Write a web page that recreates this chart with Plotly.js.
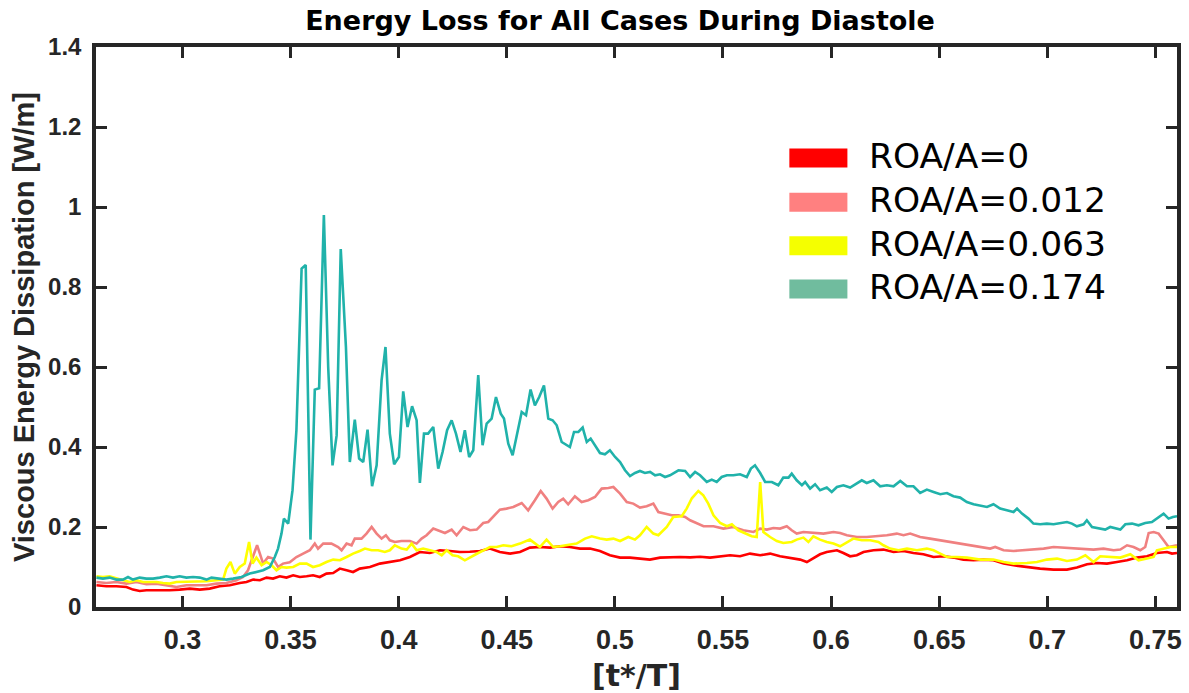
<!DOCTYPE html>
<html>
<head>
<meta charset="utf-8">
<script src="https://cdn.plot.ly/plotly-3.0.1.min.js"></script>
<style>html,body{margin:0;padding:0;background:#fff;}#chart{width:1189px;height:693px;}</style>
</head>
<body>
<div id="chart"></div>
<script>
// ROA/A = 0 (red)
const xRed = [0.2602,0.2648,0.2694,0.2741,0.2771,0.2802,0.2833,0.2864,0.2895,0.2941,0.2987,0.3034,0.3080,0.3126,0.3172,0.3219,0.3265,0.3296,0.3327,0.3358,0.3389,0.3419,0.3450,0.3481,0.3512,0.3543,0.3574,0.3604,0.3635,0.3666,0.3697,0.3728,0.3759,0.3789,0.3820,0.3867,0.3913,0.3959,0.4006,0.4052,0.4098,0.4144,0.4191,0.4237,0.4283,0.4329,0.4376,0.4422,0.4468,0.4515,0.4561,0.4607,0.4653,0.4700,0.4746,0.4792,0.4839,0.4885,0.4931,0.4977,0.5024,0.5070,0.5116,0.5162,0.5209,0.5255,0.5301,0.5348,0.5394,0.5440,0.5486,0.5533,0.5579,0.5625,0.5672,0.5718,0.5764,0.5810,0.5857,0.5888,0.5918,0.5949,0.5980,0.6027,0.6057,0.6088,0.6119,0.6150,0.6196,0.6242,0.6289,0.6335,0.6381,0.6427,0.6474,0.6520,0.6566,0.6612,0.6659,0.6705,0.6751,0.6798,0.6844,0.6906,0.6967,0.7029,0.7091,0.7137,0.7184,0.7230,0.7276,0.7322,0.7369,0.7415,0.7461,0.7507,0.7554,0.7577,0.7600];
const yRed = [0.0543,0.0518,0.0518,0.0500,0.0435,0.0400,0.0418,0.0418,0.0400,0.0418,0.0435,0.0460,0.0435,0.0460,0.0518,0.0543,0.0600,0.0625,0.0685,0.0668,0.0735,0.0710,0.0768,0.0735,0.0793,0.0750,0.0768,0.0793,0.0750,0.0835,0.0850,0.0960,0.0918,0.0875,0.0960,0.1000,0.1085,0.1125,0.1168,0.1250,0.1375,0.1350,0.1418,0.1400,0.1375,0.1380,0.1400,0.1460,0.1375,0.1335,0.1375,0.1485,0.1500,0.1485,0.1518,0.1500,0.1460,0.1460,0.1400,0.1293,0.1235,0.1235,0.1210,0.1185,0.1235,0.1250,0.1250,0.1240,0.1255,0.1235,0.1268,0.1293,0.1268,0.1335,0.1293,0.1335,0.1268,0.1235,0.1185,0.1125,0.1210,0.1318,0.1375,0.1418,0.1350,0.1268,0.1293,0.1375,0.1418,0.1435,0.1375,0.1400,0.1350,0.1318,0.1250,0.1268,0.1235,0.1185,0.1168,0.1185,0.1168,0.1085,0.1043,0.1000,0.0960,0.0935,0.0935,0.0985,0.1068,0.1100,0.1085,0.1125,0.1168,0.1235,0.1268,0.1350,0.1375,0.1335,0.1350];

// ROA/A = 0.012 (pink)
const xPink = [0.2602,0.2648,0.2694,0.2741,0.2787,0.2833,0.2880,0.2926,0.2972,0.3018,0.3065,0.3111,0.3157,0.3203,0.3250,0.3280,0.3303,0.3327,0.3345,0.3358,0.3373,0.3396,0.3419,0.3442,0.3465,0.3496,0.3527,0.3558,0.3589,0.3612,0.3627,0.3651,0.3689,0.3720,0.3736,0.3759,0.3782,0.3797,0.3828,0.3851,0.3875,0.3898,0.3921,0.3941,0.3959,0.3982,0.4013,0.4052,0.4083,0.4106,0.4129,0.4160,0.4183,0.4214,0.4245,0.4268,0.4299,0.4330,0.4361,0.4391,0.4414,0.4445,0.4468,0.4499,0.4530,0.4569,0.4599,0.4630,0.4657,0.4684,0.4712,0.4738,0.4761,0.4784,0.4815,0.4846,0.4877,0.4908,0.4939,0.4970,0.4993,0.5024,0.5055,0.5085,0.5116,0.5147,0.5178,0.5201,0.5232,0.5263,0.5294,0.5325,0.5348,0.5379,0.5410,0.5456,0.5502,0.5548,0.5594,0.5641,0.5672,0.5703,0.5733,0.5764,0.5795,0.5818,0.5841,0.5872,0.5918,0.5965,0.6011,0.6042,0.6073,0.6119,0.6165,0.6212,0.6258,0.6304,0.6335,0.6366,0.6412,0.6458,0.6505,0.6551,0.6597,0.6643,0.6690,0.6736,0.6759,0.6798,0.6844,0.6890,0.6936,0.6983,0.7029,0.7075,0.7122,0.7168,0.7214,0.7260,0.7307,0.7338,0.7369,0.7399,0.7430,0.7453,0.7469,0.7492,0.7515,0.7538,0.7561,0.7600];
const yPink = [0.0625,0.0600,0.0625,0.0585,0.0625,0.0568,0.0585,0.0543,0.0500,0.0543,0.0543,0.0543,0.0585,0.0600,0.0668,0.0750,0.0918,0.1250,0.1543,0.1335,0.1085,0.1250,0.1210,0.1000,0.1085,0.1120,0.1250,0.1335,0.1418,0.1585,0.1460,0.1585,0.1585,0.1500,0.1418,0.1585,0.1543,0.1710,0.1710,0.1835,0.2000,0.1835,0.1710,0.1793,0.1668,0.1625,0.1650,0.1650,0.1585,0.1710,0.1793,0.1960,0.1918,0.1850,0.1935,0.1793,0.2000,0.1918,0.1935,0.2100,0.2125,0.2293,0.2435,0.2460,0.2500,0.2600,0.2418,0.2668,0.2900,0.2710,0.2460,0.2625,0.2710,0.2568,0.2768,0.2625,0.2668,0.2750,0.2960,0.2975,0.3000,0.2835,0.2625,0.2585,0.2485,0.2518,0.2585,0.2375,0.2335,0.2293,0.2293,0.2250,0.2168,0.2085,0.2018,0.2018,0.1960,0.2000,0.1918,0.1875,0.1960,0.1935,0.1975,0.1960,0.2018,0.1918,0.1835,0.1875,0.1850,0.1835,0.1875,0.1850,0.1793,0.1750,0.1750,0.1768,0.1793,0.1835,0.1793,0.1835,0.1750,0.1710,0.1668,0.1625,0.1585,0.1543,0.1500,0.1460,0.1500,0.1418,0.1400,0.1418,0.1435,0.1460,0.1500,0.1485,0.1460,0.1460,0.1435,0.1460,0.1418,0.1435,0.1543,0.1500,0.1418,0.1500,0.1850,0.1875,0.1835,0.1668,0.1500,0.1543];

// ROA/A = 0.063 (yellow)
const xYellow = [0.2602,0.2632,0.2663,0.2694,0.2725,0.2756,0.2787,0.2818,0.2849,0.2880,0.2910,0.2941,0.2972,0.3018,0.3065,0.3111,0.3157,0.3188,0.3203,0.3222,0.3242,0.3265,0.3288,0.3308,0.3324,0.3342,0.3366,0.3389,0.3412,0.3435,0.3458,0.3481,0.3512,0.3543,0.3574,0.3604,0.3635,0.3666,0.3697,0.3728,0.3759,0.3789,0.3820,0.3844,0.3875,0.3905,0.3936,0.3959,0.3982,0.4013,0.4037,0.4060,0.4083,0.4113,0.4144,0.4175,0.4199,0.4222,0.4249,0.4275,0.4306,0.4337,0.4368,0.4399,0.4422,0.4453,0.4484,0.4522,0.4561,0.4607,0.4630,0.4653,0.4684,0.4715,0.4746,0.4784,0.4823,0.4862,0.4893,0.4931,0.4962,0.4993,0.5024,0.5062,0.5093,0.5116,0.5147,0.5178,0.5201,0.5240,0.5270,0.5309,0.5332,0.5356,0.5386,0.5409,0.5432,0.5456,0.5487,0.5518,0.5541,0.5571,0.5602,0.5633,0.5656,0.5672,0.5687,0.5718,0.5749,0.5779,0.5818,0.5841,0.5872,0.5895,0.5918,0.5949,0.5980,0.6011,0.6042,0.6073,0.6103,0.6142,0.6181,0.6219,0.6242,0.6273,0.6312,0.6351,0.6397,0.6443,0.6474,0.6505,0.6536,0.6582,0.6628,0.6690,0.6751,0.6798,0.6844,0.6906,0.6952,0.6998,0.7045,0.7091,0.7137,0.7176,0.7214,0.7245,0.7291,0.7338,0.7384,0.7422,0.7461,0.7492,0.7507,0.7538,0.7569,0.7600];
const yYellow = [0.0768,0.0750,0.0768,0.0710,0.0668,0.0625,0.0668,0.0625,0.0625,0.0625,0.0600,0.0585,0.0625,0.0625,0.0643,0.0643,0.0668,0.0685,0.0960,0.1125,0.0835,0.1000,0.1085,0.1625,0.1085,0.1235,0.1043,0.1125,0.1043,0.0918,0.1000,0.0985,0.1000,0.1085,0.1085,0.1000,0.1043,0.1125,0.1185,0.1168,0.1250,0.1335,0.1400,0.1460,0.1418,0.1418,0.1375,0.1418,0.1543,0.1460,0.1435,0.1585,0.1418,0.1460,0.1418,0.1375,0.1293,0.1418,0.1293,0.1268,0.1168,0.1268,0.1350,0.1435,0.1500,0.1500,0.1543,0.1518,0.1585,0.1685,0.1600,0.1500,0.1685,0.1500,0.1518,0.1543,0.1585,0.1710,0.1768,0.1710,0.1685,0.1710,0.1650,0.1750,0.1685,0.1793,0.2000,0.1835,0.1793,0.2000,0.2250,0.2268,0.2460,0.2718,0.2900,0.2793,0.2585,0.2293,0.2100,0.2018,0.2068,0.1918,0.1835,0.1768,0.1750,0.3125,0.1875,0.1750,0.1650,0.1600,0.1625,0.1685,0.1735,0.1625,0.1768,0.1685,0.1625,0.1585,0.1518,0.1625,0.1710,0.1668,0.1668,0.1625,0.1543,0.1460,0.1418,0.1460,0.1418,0.1460,0.1418,0.1335,0.1250,0.1250,0.1235,0.1185,0.1185,0.1125,0.1085,0.1100,0.1125,0.1185,0.1210,0.1150,0.1185,0.1293,0.1125,0.1268,0.1250,0.1235,0.1318,0.1168,0.1210,0.1250,0.1418,0.1460,0.1500,0.1500];

// ROA/A = 0.174 (teal)
const xTeal = [0.2602,0.2632,0.2663,0.2694,0.2725,0.2748,0.2771,0.2802,0.2833,0.2864,0.2895,0.2926,0.2956,0.2987,0.3018,0.3049,0.3080,0.3111,0.3134,0.3172,0.3203,0.3234,0.3273,0.3311,0.3342,0.3373,0.3404,0.3427,0.3442,0.3458,0.3469,0.3489,0.3509,0.3527,0.3551,0.3570,0.3592,0.3612,0.3632,0.3654,0.3674,0.3694,0.3713,0.3732,0.3756,0.3774,0.3797,0.3817,0.3836,0.3856,0.3877,0.3898,0.3921,0.3939,0.3959,0.3979,0.4001,0.4021,0.4041,0.4062,0.4083,0.4098,0.4117,0.4136,0.4160,0.4183,0.4203,0.4224,0.4245,0.4265,0.4286,0.4306,0.4326,0.4345,0.4368,0.4388,0.4407,0.4430,0.4450,0.4472,0.4487,0.4507,0.4527,0.4548,0.4569,0.4589,0.4610,0.4630,0.4650,0.4672,0.4692,0.4712,0.4731,0.4754,0.4774,0.4792,0.4811,0.4831,0.4851,0.4870,0.4888,0.4908,0.4931,0.4954,0.4977,0.5001,0.5024,0.5047,0.5070,0.5093,0.5116,0.5139,0.5163,0.5186,0.5209,0.5232,0.5255,0.5294,0.5325,0.5348,0.5371,0.5394,0.5425,0.5448,0.5471,0.5494,0.5518,0.5548,0.5579,0.5610,0.5629,0.5648,0.5672,0.5695,0.5726,0.5756,0.5779,0.5803,0.5818,0.5841,0.5865,0.5880,0.5903,0.5926,0.5949,0.5980,0.6003,0.6027,0.6057,0.6088,0.6119,0.6142,0.6165,0.6196,0.6227,0.6258,0.6289,0.6320,0.6351,0.6381,0.6412,0.6443,0.6474,0.6505,0.6536,0.6566,0.6597,0.6628,0.6659,0.6690,0.6721,0.6751,0.6782,0.6813,0.6844,0.6860,0.6883,0.6913,0.6936,0.6967,0.6998,0.7029,0.7060,0.7091,0.7114,0.7137,0.7168,0.7183,0.7207,0.7237,0.7268,0.7291,0.7315,0.7338,0.7361,0.7392,0.7422,0.7453,0.7484,0.7515,0.7538,0.7561,0.7581,0.7600];
const yTeal = [0.0735,0.0710,0.0735,0.0685,0.0685,0.0750,0.0685,0.0735,0.0710,0.0710,0.0735,0.0768,0.0735,0.0768,0.0735,0.0750,0.0735,0.0685,0.0735,0.0710,0.0685,0.0710,0.0750,0.0835,0.0875,0.0918,0.1000,0.1250,0.1460,0.1835,0.2210,0.2085,0.2920,0.4420,0.8460,0.8550,0.1685,0.5435,0.5470,0.9800,0.6000,0.3540,0.4290,0.8950,0.6500,0.3625,0.4685,0.3710,0.3625,0.4435,0.3020,0.3540,0.5670,0.6500,0.4335,0.3570,0.3750,0.5390,0.4500,0.5020,0.4670,0.3100,0.4335,0.4335,0.4500,0.3460,0.3875,0.4418,0.4668,0.4335,0.3875,0.4418,0.3750,0.3918,0.5800,0.4043,0.4585,0.4710,0.5250,0.4835,0.4710,0.4085,0.3793,0.4335,0.4875,0.4793,0.5435,0.5043,0.5250,0.5540,0.4710,0.4668,0.4543,0.4125,0.4068,0.4000,0.4375,0.4375,0.4485,0.4125,0.4210,0.4043,0.3850,0.3818,0.3918,0.3750,0.3625,0.3418,0.3275,0.3350,0.3400,0.3350,0.3375,0.3293,0.3318,0.3250,0.3293,0.3418,0.3400,0.3250,0.3375,0.3293,0.3125,0.3185,0.3125,0.3250,0.3293,0.3293,0.3318,0.3250,0.3460,0.3543,0.3350,0.3125,0.3125,0.3043,0.3235,0.3235,0.3335,0.3168,0.3043,0.3125,0.2960,0.3068,0.2918,0.2985,0.2875,0.3000,0.3043,0.2985,0.3085,0.3168,0.3100,0.3168,0.3018,0.3043,0.3018,0.3150,0.3018,0.3018,0.2850,0.2935,0.2875,0.2818,0.2850,0.2768,0.2735,0.2625,0.2568,0.2543,0.2500,0.2568,0.2460,0.2418,0.2375,0.2460,0.2335,0.2210,0.2085,0.2068,0.2085,0.2068,0.2100,0.2125,0.2085,0.2018,0.2068,0.2168,0.2000,0.1960,0.1935,0.2000,0.1960,0.1935,0.2068,0.2085,0.2043,0.2100,0.2125,0.2235,0.2335,0.2210,0.2250,0.2268];

const seriesNames = ['ROA/A=0','ROA/A=0.012','ROA/A=0.063','ROA/A=0.174'];
const lineColors = ['#ff0000','#f08080','#ffff00','#20b2aa'];
const legendColors = ['#ff0000','#ff8080','#f5ff00','#70bc9e'];
const xTicks = [0.3,0.35,0.4,0.45,0.5,0.55,0.6,0.65,0.7,0.75];
const yTicks = [0,0.2,0.4,0.6,0.8,1,1.2,1.4];
const xRange = [0.26,0.76];
const yRange = [0,1.4];

const xs = [xRed,xPink,xYellow,xTeal];
const ys = [yRed,yPink,yYellow,yTeal];

const traces = xs.map((x,i)=>({
  x: x, y: ys[i], type:'scatter', mode:'lines', name: seriesNames[i],
  line:{color: lineColors[i], width:2.6}, showlegend:false, hoverinfo:'x+y'
}));

// MATLAB-style box with inward ticks on all four sides (axis lines + mirrored ticks)
const frameColor = '#262626';
const axisFrame = {
  showline:true, linecolor:frameColor, linewidth:3.5, mirror:'allticks',
  ticks:'inside', ticklen:11, tickwidth:3, tickcolor:frameColor,
  showgrid:false, zeroline:false
};

// custom legend (thick colour bars + text)
const legY = [0.8016,0.7227,0.6450,0.5677];
const shapes = legY.map((yc,i)=>({type:'rect', xref:'paper', yref:'paper', x0:0.6414, x1:0.6951,
    y0: yc-0.017, y1: yc+0.017, fillcolor: legendColors[i], line:{width:0}}));
const annotations = legY.map((yc,i)=>({
  xref:'paper', yref:'paper', x:0.713, y:yc+0.004, xanchor:'left', yanchor:'middle',
  text: seriesNames[i], showarrow:false,
  font:{family:'DejaVu Sans, Verdana, sans-serif', size:34.5, color:'#000'}
}));

const tickFontX = {family:'Liberation Sans, Arial, sans-serif', size:27, color:'#262626', weight:'bold'};
const tickFontY = {family:'Liberation Sans, Arial, sans-serif', size:24, color:'#262626', weight:'bold'};

const layout = {
  width:1189, height:693,
  margin:{l:96, r:12, t:47, b:86},
  paper_bgcolor:'#ffffff', plot_bgcolor:'#ffffff',
  title:{text:'<b>Energy Loss for All Cases During Diastole</b>', x:0.5215, xanchor:'center', xref:'container',
         y:0.9697, yanchor:'middle', yref:'container',
         font:{family:'DejaVu Sans, Verdana, sans-serif', size:27, color:'#000'}},
  xaxis:Object.assign({}, axisFrame, {
    range:xRange, tickmode:'array', tickvals:xTicks, ticktext:xTicks.map(String),
    ticklabelstandoff:6, tickfont:tickFontX,
    title:{text:'<b>[t*/T]</b>', standoff:12, font:{family:'DejaVu Sans, Verdana, sans-serif', size:30, color:'#262626'}}
  }),
  yaxis:Object.assign({}, axisFrame, {
    range:yRange, tickmode:'array', tickvals:yTicks, ticktext:yTicks.map(String),
    ticklabelstandoff:6, tickfont:tickFontY,
    title:{text:'<b>Viscous Energy Dissipation [W/m]</b>', standoff:6, font:{family:'Liberation Sans, Arial, sans-serif', size:29, color:'#262626'}}
  }),
  shapes: shapes,
  annotations: annotations
};

Plotly.newPlot('chart', traces, layout, {displayModeBar:false});
</script>
</body>
</html>
